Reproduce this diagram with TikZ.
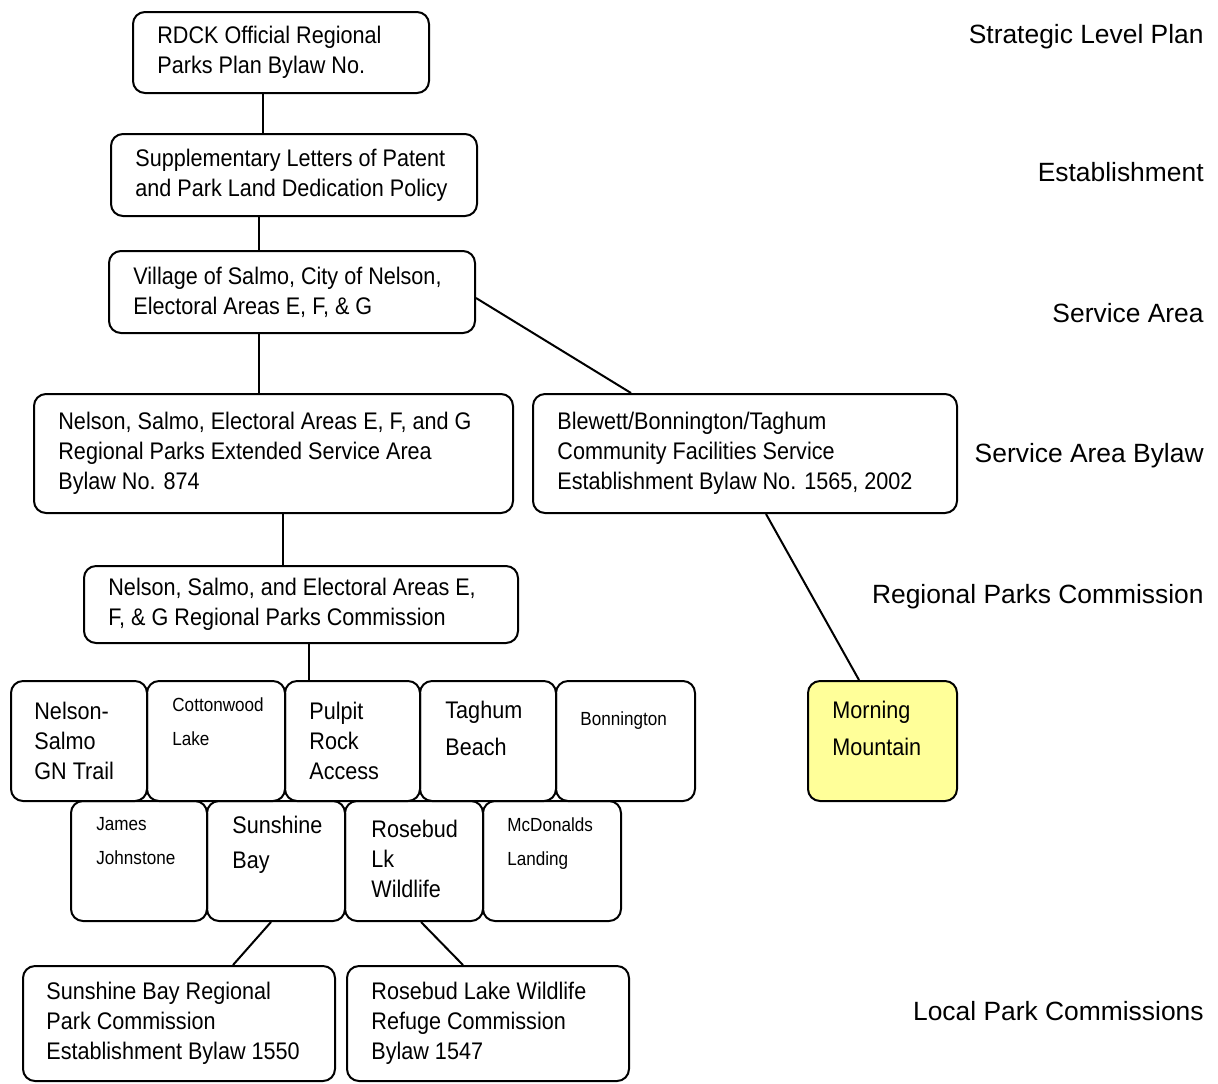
\documentclass[tikz,border=0pt]{standalone}
\usepackage{fontspec}
\setmainfont[FakeStretch=0.9]{Liberation Sans}
\newfontfamily\levelfont{Liberation Sans}
\usetikzlibrary{positioning}

\definecolor{paleyellow}{RGB}{255,255,153}

\tikzset{
  box/.style={draw, line width=1pt, rounded corners=6pt, inner sep=0pt, anchor=north west},
  txt/.style={inner sep=0pt, align=left, font=\fontsize{12}{15}\selectfont},
  smalltxt/.style={inner sep=0pt, align=left, font=\fontsize{9.5}{17}\selectfont},
  level/.style={anchor=base east, inner sep=0pt, font=\levelfont\fontsize{13.2}{16}\selectfont},
  link/.style={line width=1pt}
}

\begin{document}
\begin{tikzpicture}[x=0.5pt, y=-0.5pt]
  \useasboundingbox (0,0) rectangle (1218,1083);

  % levels on the right
  \node[level] (lv1) at (1204,43) {Strategic Level Plan};
  \node[level] (lv2) at (1204,181) {Establishment};
  \node[level] (lv3) at (1204,322) {Service Area};
  \node[level] (lv4) at (1204,462) {Service Area Bylaw};
  \node[level] (lv5) at (1204,603) {Regional Parks Commission};
  \node[level] (lv6) at (1204,1020) {Local Park Commissions};

  % main chain
  \node[box, minimum width=148pt, minimum height=40.5pt] (plan) at (132,11) {};
  \node[txt, anchor=west] (plan-t) at ([xshift=12.5pt]plan.west) {RDCK Official Regional\\Parks Plan Bylaw No.};
  \node[box, minimum width=183pt, minimum height=41pt] (letters) at (110,133) {};
  \node[txt, anchor=west] (letters-t) at ([xshift=12.5pt]letters.west) {Supplementary Letters of Patent\\and Park Land Dedication Policy};
  \node[box, minimum width=183pt, minimum height=41pt] (village) at (108,250) {};
  \node[txt, anchor=west] (village-t) at ([xshift=12.5pt]village.west) {Village of Salmo, City of Nelson,\\Electoral Areas E, F, \& G};
  \node[box, minimum width=239.5pt, minimum height=59.5pt] (extsvc) at (33,393) {};
  \node[txt, anchor=west] (extsvc-t) at ([xshift=12.5pt]extsvc.west) {Nelson, Salmo, Electoral Areas E, F, and G\\Regional Parks Extended Service Area\\Bylaw No. 874};
  \node[box, minimum width=212pt, minimum height=59.5pt] (blewett) at (532,393) {};
  \node[txt, anchor=west] (blewett-t) at ([xshift=12.5pt]blewett.west) {Blewett/Bonnington/Taghum\\Community Facilities Service\\Establishment Bylaw No. 1565, 2002};
  \node[box, minimum width=217pt, minimum height=38.5pt] (rpc) at (83,565) {};
  \node[txt, anchor=west] (rpc-t) at ([xshift=12.5pt]rpc.west) {Nelson, Salmo, and Electoral Areas E,\\F, \& G Regional Parks Commission};

  % parks, first row
  \node[box, minimum width=68pt, minimum height=60pt] (nsgn) at (10,680) {};
  \node[txt, anchor=west] (nsgn-t) at ([xshift=12pt]nsgn.west) {Nelson-\\Salmo\\GN Trail};
  \node[box, minimum width=69pt, minimum height=60pt] (cotton) at (146,680) {};
  \node[smalltxt, anchor=north west] (cotton-t) at ([xshift=13pt, yshift=-8.5pt]cotton.north west) {Cottonwood\\Lake};
  \node[box, minimum width=67.5pt, minimum height=60pt] (pulpit) at (284,680) {};
  \node[txt, anchor=west] (pulpit-t) at ([xshift=12.5pt]pulpit.west) {Pulpit\\Rock\\Access};
  \node[box, minimum width=68pt, minimum height=60pt] (taghum) at (419,680) {};
  \node[txt, anchor=north west, font=\fontsize{12}{18.5}\selectfont] (taghum-t) at ([xshift=13pt, yshift=-10.5pt]taghum.north west) {Taghum\\Beach};
  \node[box, minimum width=69.5pt, minimum height=60pt] (bonn) at (555,680) {};
  \node[smalltxt, anchor=north west] (bonn-t) at ([xshift=12.5pt, yshift=-15.5pt]bonn.north west) {Bonnington};

  % parks, second row
  \node[box, minimum width=68pt, minimum height=60pt] (james) at (70,800) {};
  \node[smalltxt, anchor=north west] (james-t) at ([xshift=13pt, yshift=-8.5pt]james.north west) {James\\Johnstone};
  \node[box, minimum width=69pt, minimum height=60pt] (sunshine) at (206,800) {};
  \node[txt, anchor=north west, font=\fontsize{12}{17.5}\selectfont] (sunshine-t) at ([xshift=13pt, yshift=-8pt]sunshine.north west) {Sunshine\\Bay};
  \node[box, minimum width=69pt, minimum height=60pt] (rosebud) at (344,800) {};
  \node[txt, anchor=west] (rosebud-t) at ([xshift=13.5pt, yshift=1pt]rosebud.west) {Rosebud\\Lk\\Wildlife};
  \node[box, minimum width=69pt, minimum height=60pt] (mcdon) at (482,800) {};
  \node[smalltxt, anchor=north west] (mcdon-t) at ([xshift=12.5pt, yshift=-8.5pt]mcdon.north west) {McDonalds\\Landing};

  \node[box, fill=paleyellow, minimum width=74.5pt, minimum height=60pt] (morning) at (807,680) {};
  \node[txt, anchor=north west, font=\fontsize{12}{18.5}\selectfont] (morning-t) at ([xshift=12.5pt, yshift=-10.5pt]morning.north west) {Morning\\Mountain};

  % local commissions
  \node[box, minimum width=156pt, minimum height=57.5pt] (sbcomm) at (22,965) {};
  \node[txt, anchor=west] (sbcomm-t) at ([xshift=12pt]sbcomm.west) {Sunshine Bay Regional\\Park Commission\\Establishment Bylaw 1550};
  \node[box, minimum width=141pt, minimum height=57.5pt] (rlcomm) at (346,965) {};
  \node[txt, anchor=west] (rlcomm-t) at ([xshift=12.5pt]rlcomm.west) {Rosebud Lake Wildlife\\Refuge Commission\\Bylaw 1547};

  % connectors
  \draw[link] ([xshift=-9pt]plan.south) -- ([xshift=-9pt]plan.south |- letters.north);
  \draw[link] ([xshift=-17.5pt]letters.south) -- ([xshift=-17.5pt]letters.south |- village.north);
  \draw[link] ([xshift=-16.5pt]village.south) -- ([xshift=-16.5pt]village.south |- extsvc.north);
  \draw[link] ([yshift=-3pt]village.east) -- ([xshift=-57pt]blewett.north);
  \draw[link] ([xshift=4.75pt]extsvc.south) -- ([xshift=4.75pt]extsvc.south |- rpc.north);
  \draw[link] ([xshift=4pt]rpc.south) -- ([xshift=4pt]rpc.south |- pulpit.north);
  \draw[link] ([xshift=10.5pt]blewett.south) -- ([xshift=-11.75pt]morning.north);
  \draw[link] ([xshift=-2.5pt]sunshine.south) -- ([xshift=27pt]sbcomm.north);
  \draw[link] ([xshift=3.5pt]rosebud.south) -- ([xshift=-12.5pt]rlcomm.north);
\end{tikzpicture}
\end{document}
